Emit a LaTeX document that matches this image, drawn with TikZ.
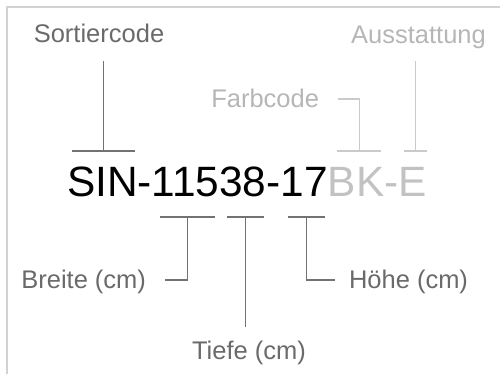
\documentclass[tikz,border=0pt]{standalone}
\usepackage{fontspec}
\setmainfont{Liberation Sans}
\usetikzlibrary{positioning,calc}
\definecolor{codegrey}{HTML}{C2C2C2}
\definecolor{labelgrey}{HTML}{6A6A6A}
\definecolor{linegrey}{HTML}{727272}
\definecolor{lightgrey}{HTML}{CACACA}
\definecolor{framegrey}{HTML}{D2D2D2}
\tikzset{
  lbl/.style={inner sep=0pt, outer sep=0pt, text height=18pt, text depth=0pt,
    font=\fontsize{25.5}{30}\selectfont, text=labelgrey},
  lightlbl/.style={lbl, text=lightgrey!90!black},
  codepart/.style={inner sep=0pt, outer sep=0pt, text height=30pt, text depth=0pt,
    font=\fontsize{42.4}{50}\selectfont},
  darkline/.style={draw=linegrey, line width=1.2pt},
  lightline/.style={draw=lightgrey, line width=1.2pt}
}
\begin{document}
\begin{tikzpicture}[x=1pt,y=1pt]

    \useasboundingbox (0,0) rectangle (500,374);
    \draw[framegrey, line width=1.2pt] (500,367) -- (7,367) -- (7,0);

    \node[codepart, anchor=base west] (sin) at (67,177) {SIN};
    \node[codepart, right=0pt of sin] (dasha) {-};
    \node[codepart, right=0pt of dasha] (breite) {115};
    \node[codepart, right=0pt of breite] (tiefe) {38};
    \node[codepart, right=0pt of tiefe] (dashb) {-};
    \node[codepart, right=0pt of dashb] (hoehe) {17};
    \node[codepart, text=codegrey, right=0pt of hoehe] (farbe) {BK};
    \node[codepart, text=codegrey, right=0pt of farbe] (dashc) {-};
    \node[codepart, text=codegrey, right=0pt of dashc] (ausst) {E};

    \node[lbl, anchor=base] (sortlbl) at (99,331) {Sortiercode};
    \node[lightlbl, anchor=base] (ausstlbl) at (418.5,330) {Ausstattung};
    \node[lightlbl, anchor=base east] (farbelbl) at (319,266) {Farbcode};
    \node[lbl, anchor=base east] (breitelbl) at (146,85) {Breite (cm)};
    \node[lbl, anchor=base] (tiefelbl) at (249,14) {Tiefe (cm)};
    \node[lbl, anchor=base west] (hoehelbl) at (349,85) {Höhe (cm)};

    \foreach \part/\l/\r/\s in {sin/5/3/darkline, farbe/9/3/lightline, ausst/5/0/lightline}
        \draw[\s] ([shift={(\l,16)}]\part.north west) -- coordinate (\part-bar) ([shift={(-\r,16)}]\part.north east);
    \foreach \part/\l/\r in {breite/8/4.5, tiefe/7.5/3, hoehe/7/3}
        \draw[darkline] ([shift={(\l,-20)}]\part.south west) -- coordinate (\part-bar) ([shift={(-\r,-20)}]\part.south east);

    \draw[darkline] (sin-bar) -- ($(sin-bar |- sortlbl.base)+(0,-18)$);
    \draw[lightline] (ausst-bar) -- ($(ausst-bar |- ausstlbl.base)+(0,-17)$);
    \draw[lightline] (farbe-bar) |- ($(farbelbl.east)+(19,0)$);
    \draw[darkline] (breite-bar) |- ($(breitelbl.east)+(19,0)$);
    \draw[darkline] (tiefe-bar) -- ($(tiefe-bar |- tiefelbl.north)+(0,15)$);
    \draw[darkline] (hoehe-bar) |- ($(hoehelbl.west)+(-14,0)$);

\end{tikzpicture}
\end{document}
